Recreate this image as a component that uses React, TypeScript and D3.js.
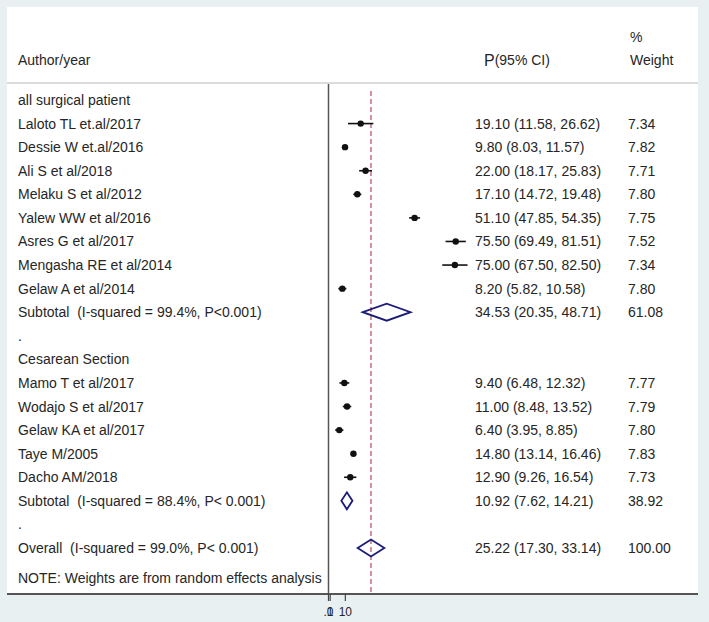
import * as d3 from "d3";

// study labels / values
const surgicalStudies = [
  "Laloto TL et.al/2017",
  "Dessie W et.al/2016",
  "Ali S et al/2018",
  "Melaku S et al/2012",
  "Yalew WW et al/2016",
  "Asres G et al/2017",
  "Mengasha RE et al/2014",
  "Gelaw A et al/2014",
];
const surgicalEs = [19.1, 9.8, 22.0, 17.1, 51.1, 75.5, 75.0, 8.2];
const surgicalLo = [11.58, 8.03, 18.17, 14.72, 47.85, 69.49, 67.5, 5.82];
const surgicalHi = [26.62, 11.57, 25.83, 19.48, 54.35, 81.51, 82.5, 10.58];
const surgicalWeight = [7.34, 7.82, 7.71, 7.8, 7.75, 7.52, 7.34, 7.8];

const cesareanStudies = [
  "Mamo T et al/2017",
  "Wodajo S et al/2017",
  "Gelaw KA et al/2017",
  "Taye M/2005",
  "Dacho AM/2018",
];
const cesareanEs = [9.4, 11.0, 6.4, 14.8, 12.9];
const cesareanLo = [6.48, 8.48, 3.95, 13.14, 9.26];
const cesareanHi = [12.32, 13.52, 8.85, 16.46, 16.54];
const cesareanWeight = [7.77, 7.79, 7.8, 7.83, 7.73];

const pooledLabels = [
  "Subtotal  (I-squared = 99.4%, P<0.001)",
  "Subtotal  (I-squared = 88.4%, P< 0.001)",
  "Overall  (I-squared = 99.0%, P< 0.001)",
];
const pooledEs = [34.53, 10.92, 25.22];
const pooledLo = [20.35, 7.62, 17.3];
const pooledHi = [48.71, 14.21, 33.14];
const pooledWeight = [61.08, 38.92, 100.0];

const tickValues = [0, 1, 10];
const tickLabels = [".0", "1", "10"];

type Row = {
  label: string;
  kind: "head" | "study" | "pooled" | "blank";
  es?: number;
  lo?: number;
  hi?: number;
  w?: number;
};

function studyRows(names: string[], es: number[], lo: number[], hi: number[], w: number[]): Row[] {
  return names.map((n, i) => ({ label: n, kind: "study", es: es[i], lo: lo[i], hi: hi[i], w: w[i] }));
}
function pooledRow(i: number): Row {
  return { label: pooledLabels[i], kind: "pooled", es: pooledEs[i], lo: pooledLo[i], hi: pooledHi[i], w: pooledWeight[i] };
}

const rows: Row[] = [
  { label: "all surgical patient", kind: "head" },
  ...studyRows(surgicalStudies, surgicalEs, surgicalLo, surgicalHi, surgicalWeight),
  pooledRow(0),
  { label: ".", kind: "blank" },
  { label: "Cesarean Section", kind: "head" },
  ...studyRows(cesareanStudies, cesareanEs, cesareanLo, cesareanHi, cesareanWeight),
  pooledRow(1),
  { label: ".", kind: "blank" },
  pooledRow(2),
];

const W = 709;
const H = 622;
const font = "'Liberation Sans', Arial, sans-serif";
const ink = "#262626";

export default function App() {
  const x = d3.scaleLinear().domain([0, 100]).range([328.5, 497]);
  const y = d3.scaleLinear().domain([0, rows.length - 1]).range([100, 548]);
  const fmt = d3.format(".2f");

  const panel = { left: 7, right: 698, top: 7, bottom: 594 };
  const sepY = 83;
  const overall = pooledEs[2];

  const diamond = (r: Row, cy: number) => {
    const h = 8.5;
    return `M${x(r.lo!)},${cy} L${x(r.es!)},${cy - h} L${x(r.hi!)},${cy} L${x(r.es!)},${cy + h} Z`;
  };

  return (
    <div style={{ position: "absolute", left: 0, top: 0 }}>
      <svg width={W} height={H} style={{ display: "block", fontFamily: font }}>
        <rect x={0} y={0} width={W} height={H} fill="#e8f0f2" />
        <rect
          x={panel.left}
          y={panel.top}
          width={panel.right - panel.left}
          height={panel.bottom - panel.top}
          fill="#ffffff"
        />

        {/* header */}
        <g fill={ink} fontSize={14}>
          <text x={18} y={60} dominantBaseline="central">Author/year</text>
          <text x={484} y={60} dominantBaseline="central">
            <tspan fontSize={16}>P</tspan>(95% CI)
          </text>
          <text x={630} y={37} dominantBaseline="central">%</text>
          <text x={630} y={60} dominantBaseline="central">Weight</text>
        </g>
        <line x1={panel.left} x2={panel.right} y1={sepY} y2={sepY} stroke="#cfcfcf" strokeWidth={1.5} />

        {/* reference lines */}
        <line x1={x(0)} x2={x(0)} y1={sepY + 1} y2={panel.bottom} stroke="#555" strokeWidth={1.5} />
        <line
          x1={x(overall)}
          x2={x(overall)}
          y1={sepY + 8}
          y2={panel.bottom}
          stroke="#b44a5c"
          strokeWidth={1.2}
          strokeDasharray="5,3"
        />

        {rows.map((r, i) => {
          const cy = y(i);
          return (
            <g key={i}>
              <text
                x={18}
                y={cy}
                dominantBaseline="central"
                fontSize={14}
                fill={ink}
                xmlSpace="preserve"
                style={{ whiteSpace: "pre" }}
              >
                {r.label}
              </text>
              {r.kind === "study" && (
                <g>
                  <line x1={x(r.lo!)} x2={x(r.hi!)} y1={cy} y2={cy} stroke="#111" strokeWidth={1.6} />
                  <circle cx={x(r.es!)} cy={cy} r={3.2} fill="#111" />
                </g>
              )}
              {r.kind === "pooled" && (
                <path d={diamond(r, cy)} fill="none" stroke="#1c1c78" strokeWidth={1.8} />
              )}
              {(r.kind === "study" || r.kind === "pooled") && (
                <g fontSize={14} fill={ink}>
                  <text x={475} y={cy} dominantBaseline="central">
                    {`${fmt(r.es!)} (${fmt(r.lo!)}, ${fmt(r.hi!)})`}
                  </text>
                  <text x={628} y={cy} dominantBaseline="central">
                    {fmt(r.w!)}
                  </text>
                </g>
              )}
            </g>
          );
        })}

        <text x={18} y={578} dominantBaseline="central" fontSize={14} fill={ink}>
          NOTE: Weights are from random effects analysis
        </text>

        {/* bottom axis */}
        <line x1={panel.left} x2={panel.right} y1={panel.bottom} y2={panel.bottom} stroke="#555" strokeWidth={2} />
        {tickValues.map((t, i) => (
          <g key={t}>
            <line x1={x(t)} x2={x(t)} y1={panel.bottom} y2={panel.bottom + 7} stroke="#444" strokeWidth={1.2} />
            <text x={x(t)} y={612} textAnchor="middle" dominantBaseline="central" fontSize={12} fill={ink}>
              {tickLabels[i]}
            </text>
          </g>
        ))}
      </svg>
    </div>
  );
}
